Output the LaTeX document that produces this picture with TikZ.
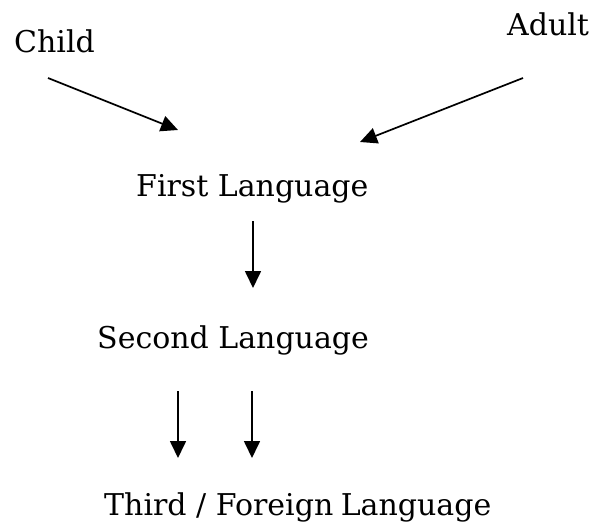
\documentclass[tikz,border=0pt]{standalone}
\usepackage{fontspec}
\setmainfont{DejaVu Serif}
\usetikzlibrary{arrows.meta}
\begin{document}
\begin{tikzpicture}[x=1pt,y=-1pt,
  lbl/.style={anchor=base west,inner sep=0pt,font=\fontsize{30}{36}\selectfont},
  arr/.style={line width=1.7pt,-{Triangle[length=17pt,width=16pt]}}]
\useasboundingbox (0,0) rectangle (595,522);
\node[lbl] (child) at (14,52) {Child};
\node[lbl] (adult) at (507,35) {Adult};
\node[lbl] (first) at (136,196) {First Language};
\node[lbl] (second) at (97,348) {Second Language};
\node[lbl] (third) at (104,515) {Third / Foreign\hspace{0.25em}Language};
\coordinate (c1) at (48,78);
\coordinate (c2) at (178,130);
\coordinate (a1) at (523,78);
\coordinate (a2) at (360,142);
\coordinate (f1) at (253,221);
\coordinate (f2) at (253,288);
\coordinate (s1) at (178,391);
\coordinate (s2) at (178,458);
\coordinate (s3) at (252,391);
\coordinate (s4) at (252,458);
\draw[arr] (c1) -- (c2);
\draw[arr] (a1) -- (a2);
\draw[arr] (f1) -- (f2);
\draw[arr] (s1) -- (s2);
\draw[arr] (s3) -- (s4);
\end{tikzpicture}
\end{document}
